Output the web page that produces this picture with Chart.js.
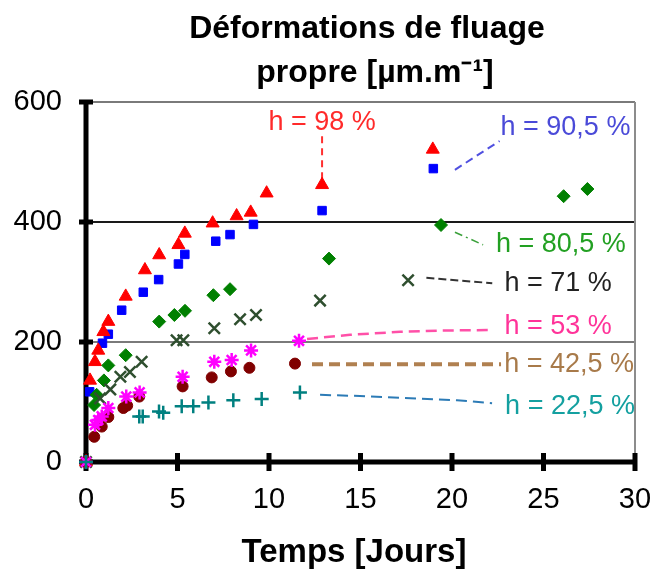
<!DOCTYPE html>
<html>
<head>
<meta charset="utf-8">
<script src="https://cdn.jsdelivr.net/npm/chart.js@4"></script>
<style>
  body { margin: 0; background: #fff; }
  #wrap { width: 655px; height: 579px; }
</style>
</head>
<body>
<div id="wrap"><canvas id="creepChart" width="655" height="579"></canvas></div>
<script>
// ==========================
// DATA
// ==========================
const xTicks = [0, 5, 10, 15, 20, 25, 30];
const yTicks = [0, 200, 400, 600];

const h98x = [0, 0.22, 0.49, 0.67, 0.95, 1.22, 2.17, 3.22, 4.0, 5.05, 5.4, 6.92, 8.23, 9.0, 9.87, 12.9, 18.95];
const h98y = [0, 136, 167, 186, 217, 234, 276, 320, 345, 362, 381, 398, 410, 416, 448, 462, 521];

const h905x = [0, 0.2, 0.9, 1.22, 1.95, 3.13, 3.97, 5.05, 5.4, 7.09, 7.87, 9.15, 12.9, 18.98];
const h905y = [0, 117, 198, 213, 253, 283, 304, 330, 346, 368, 379, 396, 419, 489];

const h805x = [0, 0.44, 0.58, 0.98, 1.22, 2.17, 4.0, 4.83, 5.41, 6.96, 7.87, 13.28, 19.4, 26.1, 27.4];
const h805y = [0, 95, 112, 136, 161, 178, 234, 245, 252, 278, 288, 339, 395, 443, 455];

const h71x = [0, 0.77, 1.33, 1.88, 2.4, 3.04, 4.95, 5.32, 7.01, 8.42, 9.29, 12.79, 17.6];
const h71y = [0, 106, 121, 142, 150, 167, 203, 203, 223, 238, 245, 269, 303];

const h53x = [0, 0.49, 0.67, 0.86, 1.22, 2.2, 2.93, 5.28, 7.01, 7.96, 9.02, 11.64];
const h53y = [0, 62, 70, 76, 90, 109, 116, 142, 167, 170, 186, 202];

const h425x = [0, 0.45, 0.86, 1.22, 2.04, 2.25, 2.91, 5.28, 6.87, 7.92, 8.93, 11.42];
const h425y = [0, 42, 59, 75, 90, 94, 109, 126, 141, 151, 157, 164];

const h225x = [0, 2.91, 3.1, 3.99, 4.22, 5.23, 5.86, 6.69, 8.05, 9.6, 11.69];
const h225y = [0, 76, 76, 84, 82, 93, 93, 99, 103, 105, 116];

// labels "h = ..." with their dashed leaders, in data units
const labelTexts = ["h = 98 %", "h = 90,5 %", "h = 80,5 %", "h = 71 %", "h = 53 %", "h = 42,5 %", "h = 22,5 %"];
const labelPos = [[12.9, 565], [26.2, 557], [25.95, 363], [25.8, 297], [25.8, 225], [26.4, 162], [26.45, 93]];
const leaders = [
  [[12.9, 543], [12.9, 470]],
  [[20.16, 487], [22.6, 535]],
  [[20.16, 383], [21.7, 362]],
  [[18.6, 307], [22.2, 298]],
  [[12.08, 205], [14.43, 212], [17.16, 217], [19.34, 219], [22.19, 220]],
  [[12.35, 163], [22.68, 163]],
  [[12.79, 112], [14.97, 110], [20.27, 103], [22.19, 98]]
];

// ==========================
// STYLES
// ==========================
const FONT = '"Liberation Sans", Arial, sans-serif';
const labelColors = ["#ff2a2a", "#4a4ad8", "#22a022", "#222222", "#ff3399", "#a87a4a", "#14a0a0"];
const leaderStyles = [
  { color: "#ff3030", width: 2, dash: [7, 5] },
  { color: "#5050e0", width: 2, dash: [8, 5] },
  { color: "#3aa03a", width: 1.5, dash: [8, 4, 2, 4] },
  { color: "#333333", width: 2, dash: [8, 4] },
  { color: "#ff50a8", width: 2.5, dash: [11, 6] },
  { color: "#b08050", width: 4, dash: [11, 6] },
  { color: "#2c7bb6", width: 2, dash: [11, 6] }
];

function pts(xs, ys) {
  return xs.map((x, i) => ({ x: x, y: ys[i] }));
}

function series(xs, ys, style, color, radius, border) {
  return {
    data: pts(xs, ys),
    pointStyle: style,
    pointRadius: radius,
    pointBackgroundColor: color,
    pointBorderColor: color,
    pointBorderWidth: border,
    showLine: false,
    clip: false
  };
}

// ==========================
// AXES, FRAME AND TEXTS
// ==========================
const framePlugin = {
  id: "frame",
  beforeDatasetsDraw(chart) {
    const c = chart.ctx;
    const xs = chart.scales.x, ys = chart.scales.y;
    const x0 = xs.getPixelForValue(0), x30 = xs.getPixelForValue(30);
    const y0 = ys.getPixelForValue(0), yTop = ys.getPixelForValue(600);
    c.save();
    // right border
    c.strokeStyle = "#8c8c8c";
    c.lineWidth = 2;
    c.beginPath();
    c.moveTo(x30, yTop);
    c.lineTo(x30, y0);
    c.stroke();
    // axes
    c.strokeStyle = "#000";
    c.lineWidth = 5;
    c.beginPath();
    c.moveTo(x0, yTop - 2);
    c.lineTo(x0, y0);
    c.moveTo(x0, y0);
    c.lineTo(x30, y0);
    c.stroke();
    c.lineWidth = 5;
    c.beginPath();
    yTicks.forEach(v => {
      const p = ys.getPixelForValue(v);
      c.moveTo(x0 - 7, p);
      c.lineTo(x0 + 7, p);
    });
    xTicks.forEach(v => {
      const p = xs.getPixelForValue(v);
      c.moveTo(p, y0 - 9);
      c.lineTo(p, y0 + 9);
    });
    c.stroke();
    // leaders
    leaders.forEach((path, i) => {
      const s = leaderStyles[i];
      c.strokeStyle = s.color;
      c.lineWidth = s.width;
      c.setLineDash(s.dash);
      c.beginPath();
      path.forEach((p, j) => {
        const px = xs.getPixelForValue(p[0]), py = ys.getPixelForValue(p[1]);
        if (j === 0) c.moveTo(px, py); else c.lineTo(px, py);
      });
      c.stroke();
    });
    c.setLineDash([]);
    c.restore();
  },
  afterDraw(chart) {
    const c = chart.ctx;
    const xs = chart.scales.x, ys = chart.scales.y;
    c.save();
    c.textAlign = "center";
    c.textBaseline = "middle";
    c.font = "27px " + FONT;
    labelTexts.forEach((t, i) => {
      c.fillStyle = labelColors[i];
      c.fillText(t, xs.getPixelForValue(labelPos[i][0]), ys.getPixelForValue(labelPos[i][1]));
    });
    c.fillStyle = "#000";
    c.font = "bold 32px " + FONT;
    c.textBaseline = "alphabetic";
    c.fillText("Déformations de fluage", 367, 38);
    c.fillText("propre [µm.m⁻¹]", 375, 82);
    c.font = "bold 33px " + FONT;
    c.fillText("Temps [Jours]", 354, 562);
    c.restore();
  }
};

// ==========================
// CHART
// ==========================
const ctx = document.getElementById("creepChart").getContext("2d");

new Chart(ctx, {
  type: "scatter",
  data: {
    datasets: [
      series(h225x, h225y, "cross", "#008080", 7, 2.5),
      series(h53x, h53y, "star", "#ff00ff", 7, 2.5),
      series(h425x, h425y, "circle", "#800000", 5.5, 1),
      series(h71x, h71y, "crossRot", "#2f4f2f", 8, 2.5),
      series(h805x, h805y, "rectRot", "#008000", 6.5, 1),
      series(h98x, h98y, "triangle", "#ff0000", 7.5, 1),
      series(h905x, h905y, "rect", "#0000ff", 6, 1)
    ]
  },
  options: {
    responsive: false,
    animation: false,
    layout: { padding: { top: 102, right: 20, left: 0, bottom: 0 } },
    plugins: {
      legend: { display: false },
      tooltip: { enabled: false },
      title: { display: false }
    },
    scales: {
      x: {
        type: "linear",
        min: 0,
        max: 30,
        afterFit: s => { s.height = 117; s.paddingLeft = 0; s.paddingRight = 0; },
        afterBuildTicks: s => { s.ticks = xTicks.map(v => ({ value: v })); },
        ticks: { color: "#000", font: { size: 29, family: FONT }, padding: 13, maxRotation: 0 },
        grid: { display: false },
        border: { display: false }
      },
      y: {
        min: 0,
        max: 600,
        afterFit: s => { s.width = 86; s.paddingTop = 0; s.paddingBottom = 0; },
        afterBuildTicks: s => { s.ticks = yTicks.map(v => ({ value: v })); },
        ticks: { color: "#000", font: { size: 29, family: FONT }, padding: 24 },
        grid: {
          drawTicks: false,
          color: c => (c.tick && c.tick.value === 400 ? "#1a1a1a" : "#7a7a7a"),
          lineWidth: c => (c.tick && c.tick.value === 0 ? 0 : 2)
        },
        border: { display: false }
      }
    }
  },
  plugins: [framePlugin]
});
</script>
</body>
</html>
